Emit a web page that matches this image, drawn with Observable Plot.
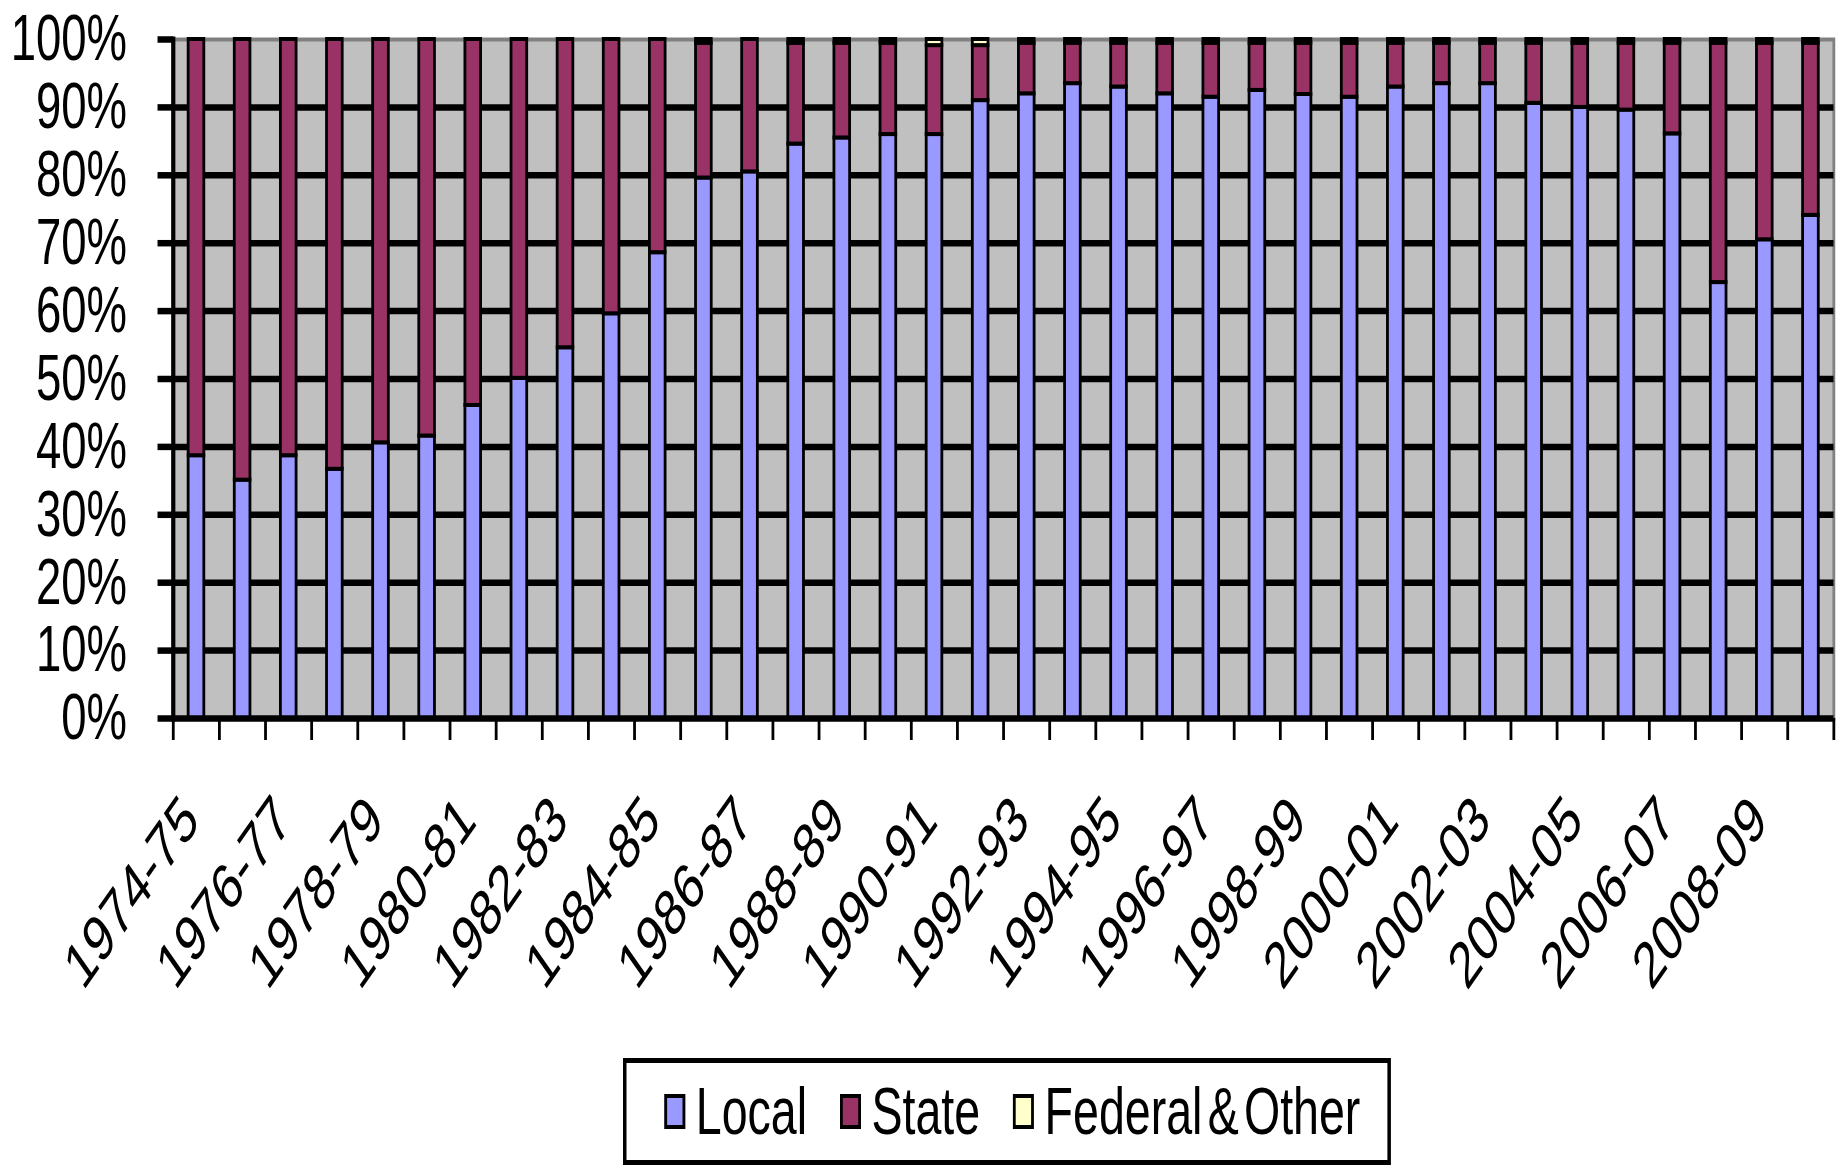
<!DOCTYPE html>
<html>
<head>
<meta charset="utf-8">
<script src="https://cdn.jsdelivr.net/npm/d3@7"></script>
<script src="https://cdn.jsdelivr.net/npm/@observablehq/plot@0.6"></script>
<style>
  html, body { margin: 0; padding: 0; background: #fff; overflow: hidden; }
  body { font-family: "Liberation Sans", Arial, sans-serif; }
  #legend { margin-left: 623px; width: 768px; height: 107px; margin-top: 18px; }
  #legend .inner {
    box-sizing: border-box; width: 1097px; height: 107px;
    border: 5px solid #000; transform: scaleX(0.7); transform-origin: 0 0;
    display: flex; align-items: center; padding-left: 54px;
    font-size: 66.5px; color: #000; background: #fff;
  }
  .sw { flex: none; width: 30px; height: 35px; border: 4px solid #000; box-sizing: border-box; margin-right: 15px; }
  .lab { flex: none; margin-right: 47px; white-space: pre; line-height: 1; word-spacing: -11px; }
</style>
</head>
<body>
<div id="chart"></div>
<div id="legend"><div class="inner"></div></div>
<script>
// ---- data (percent of total) ----
const years = ["1974-75","1975-76","1976-77","1977-78","1978-79","1979-80","1980-81","1981-82","1982-83","1983-84",
  "1984-85","1985-86","1986-87","1987-88","1988-89","1989-90","1990-91","1991-92","1992-93","1993-94",
  "1994-95","1995-96","1996-97","1997-98","1998-99","1999-00","2000-01","2001-02","2002-03","2003-04",
  "2004-05","2005-06","2006-07","2007-08","2008-09","2009-10"];
const tickLabels = ["1974-75","1976-77","1978-79","1980-81","1982-83","1984-85","1986-87","1988-89","1990-91",
  "1992-93","1994-95","1996-97","1998-99","2000-01","2002-03","2004-05","2006-07","2008-09"];
const local = [38.7,35.1,38.7,36.7,40.6,41.6,46.1,50.1,54.6,59.6,
  68.6,79.6,80.5,84.6,85.5,86.0,86.0,91.0,92.0,93.5,
  93.0,92.0,91.5,92.5,91.9,91.5,93.0,93.5,93.5,90.6,
  90.0,89.6,86.1,64.2,70.5,74.1];
const federal = [0,0,0,0,0,0,0,0,0,0,
  0,0.55,0,0.55,0.55,0.55,0.9,0.9,0.55,0.55,
  0.55,0.55,0.55,0.55,0.55,0.55,0.55,0.55,0.55,0.55,
  0.55,0.55,0.55,0.55,0.55,0.55];
const state = [61.3,64.9,61.3,63.3,59.4,58.4,53.9,49.9,45.4,40.4,
  31.4,19.85,19.5,14.85,13.95,13.45,13.1,8.1,7.45,5.95,
  6.45,7.45,7.95,6.95,7.55,7.95,6.45,5.95,5.95,8.85,
  9.45,9.85,13.35,35.25,28.95,25.35];
const yTicks = [0,10,20,30,40,50,60,70,80,90,100];
const gridTicks = [10,20,30,40,50,60,70,80,90];
const seriesNames = ["Local","State","Federal & Other"];
const seriesColors = ["#9999ff","#993366","#ffffcc"];

const rows = years.flatMap((y, i) => [
  {year: y, series: seriesNames[0], value: local[i]},
  {year: y, series: seriesNames[1], value: state[i]},
  {year: y, series: seriesNames[2], value: federal[i]}
]);

// chart drawn at an unsquished width, then compressed horizontally like the original
const squeeze = 0.7;
const OUT_W = 1844;
const W = Math.round(OUT_W / squeeze), H = 1040;
const mL = 247, mR = 15, mT = 39, mB = 322;
const step = (W - mL - mR) / years.length;

const plot = Plot.plot({
  width: W, height: H,
  marginLeft: mL, marginRight: mR, marginTop: mT, marginBottom: mB,
  style: {fontFamily: "'Liberation Sans', Arial, sans-serif", background: "white", color: "black", overflow: "visible"},
  x: {domain: years, paddingInner: 0.66, paddingOuter: 0.33, label: null},
  y: {domain: [0, 100], label: null},
  color: {domain: seriesNames, range: seriesColors},
  marks: [
    Plot.frame({fill: "#c0c0c0", stroke: "#808080", strokeWidth: 4}),
    Plot.gridY(gridTicks, {stroke: "black", strokeOpacity: 1, strokeWidth: 6.5}),
    Plot.barY(rows, {x: "year", y: "value", fill: "series", stroke: "black", strokeWidth: 4, order: seriesNames}),
    Plot.ruleY([0], {stroke: "black", strokeWidth: 6.5}),
    Plot.frame({anchor: "left", stroke: "black", strokeWidth: 6}),
    Plot.axisY(yTicks, {tickSize: 22, tickPadding: 44, tickFormat: d => d + "%", fontSize: 65, strokeWidth: 6.5, label: null}),
    Plot.axisX(years, {tickSize: 22, dx: -step / 2, strokeWidth: 4, fill: "none", tickFormat: () => "", label: null}),
    Plot.axisX([years[years.length - 1]], {tickSize: 22, dx: step / 2, strokeWidth: 4, fill: "none", tickFormat: () => "", label: null}),
    Plot.axisX(tickLabels, {tickSize: 0, tickPadding: 90, tickRotate: -45, fontSize: 65, dx: -8, label: null})
  ]
});

plot.setAttribute("width", OUT_W);
plot.setAttribute("preserveAspectRatio", "none");
plot.style.width = OUT_W + "px";
plot.style.height = H + "px";
plot.style.maxWidth = "none";
document.getElementById("chart").append(plot);

// legend
const inner = document.querySelector("#legend .inner");
seriesNames.forEach((n, i) => {
  const s = document.createElement("span");
  s.className = "sw";
  s.style.background = seriesColors[i];
  inner.append(s);
  const t = document.createElement("span");
  t.className = "lab";
  t.textContent = n;
  inner.append(t);
});
</script>
</body>
</html>
